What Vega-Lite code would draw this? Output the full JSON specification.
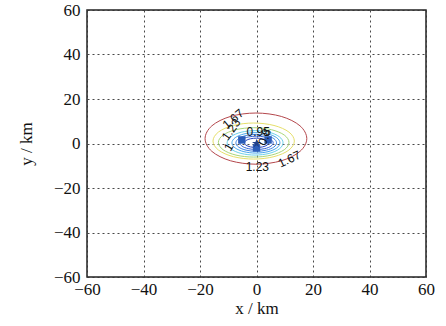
{
  "$schema": "https://vega.github.io/schema/vega-lite/v6.json",
  "width": 339,
  "height": 267,
  "autosize": {"type": "none"},
  "padding": {"left": 87, "top": 10, "right": 20, "bottom": 49},
  "background": "white",
  "config": {
    "view": {"stroke": "#222", "strokeWidth": 1.5},
    "axis": {
      "labelFont": "Liberation Serif", "labelFontSize": 17, "labelColor": "#111",
      "titleFont": "Liberation Serif", "titleFontSize": 17, "titleFontWeight": "normal", "titleColor": "#111",
      "grid": true, "gridColor": "#333", "gridDash": [2, 3], "gridWidth": 0.9, "gridOpacity": 1,
      "domain": false, "ticks": false, "labelOverlap": false, "labelFlush": false, "labelBound": false
    }
  },
  "data": {"values": [
    {"k":"c","c":"a","i":0,"x":17.8,"y":2.2},{"k":"c","c":"a","i":1,"x":15.39,"y":7.95},{"k":"c","c":"a","i":2,"x":8.8,"y":12.16},{"k":"c","c":"a","i":3,"x":-0.2,"y":13.7},{"k":"c","c":"a","i":4,"x":-9.2,"y":12.16},{"k":"c","c":"a","i":5,"x":-15.79,"y":7.95},{"k":"c","c":"a","i":6,"x":-18.2,"y":2.2},{"k":"c","c":"a","i":7,"x":-15.79,"y":-3.55},{"k":"c","c":"a","i":8,"x":-9.2,"y":-7.76},{"k":"c","c":"a","i":9,"x":-0.2,"y":-9.3},{"k":"c","c":"a","i":10,"x":8.8,"y":-7.76},{"k":"c","c":"a","i":11,"x":15.39,"y":-3.55},
    {"k":"c","c":"b","i":0,"x":13.4,"y":1.1},{"k":"c","c":"b","i":1,"x":11.47,"y":5.15},{"k":"c","c":"b","i":2,"x":6.2,"y":8.11},{"k":"c","c":"b","i":3,"x":-1,"y":9.2},{"k":"c","c":"b","i":4,"x":-8.2,"y":8.11},{"k":"c","c":"b","i":5,"x":-13.47,"y":5.15},{"k":"c","c":"b","i":6,"x":-15.4,"y":1.1},{"k":"c","c":"b","i":7,"x":-13.47,"y":-2.95},{"k":"c","c":"b","i":8,"x":-8.2,"y":-5.91},{"k":"c","c":"b","i":9,"x":-1,"y":-7},{"k":"c","c":"b","i":10,"x":6.2,"y":-5.91},{"k":"c","c":"b","i":11,"x":11.47,"y":-2.95},
    {"k":"c","c":"c","i":0,"x":11.5,"y":0.5},{"k":"c","c":"c","i":1,"x":9.83,"y":3.8},{"k":"c","c":"c","i":2,"x":5.25,"y":6.22},{"k":"c","c":"c","i":3,"x":-1,"y":7.1},{"k":"c","c":"c","i":4,"x":-7.25,"y":6.22},{"k":"c","c":"c","i":5,"x":-11.83,"y":3.8},{"k":"c","c":"c","i":6,"x":-13.5,"y":0.5},{"k":"c","c":"c","i":7,"x":-11.83,"y":-2.8},{"k":"c","c":"c","i":8,"x":-7.25,"y":-5.22},{"k":"c","c":"c","i":9,"x":-1,"y":-6.1},{"k":"c","c":"c","i":10,"x":5.25,"y":-5.22},{"k":"c","c":"c","i":11,"x":9.83,"y":-2.8},
    {"k":"c","c":"d","i":0,"x":9.4,"y":0.3},{"k":"c","c":"d","i":1,"x":8.07,"y":3.05},{"k":"c","c":"d","i":2,"x":4.45,"y":5.06},{"k":"c","c":"d","i":3,"x":-0.5,"y":5.8},{"k":"c","c":"d","i":4,"x":-5.45,"y":5.06},{"k":"c","c":"d","i":5,"x":-9.07,"y":3.05},{"k":"c","c":"d","i":6,"x":-10.4,"y":0.3},{"k":"c","c":"d","i":7,"x":-9.07,"y":-2.45},{"k":"c","c":"d","i":8,"x":-5.45,"y":-4.46},{"k":"c","c":"d","i":9,"x":-0.5,"y":-5.2},{"k":"c","c":"d","i":10,"x":4.45,"y":-4.46},{"k":"c","c":"d","i":11,"x":8.07,"y":-2.45},
    {"k":"c","c":"e","i":0,"x":8.3,"y":0.3},{"k":"c","c":"e","i":1,"x":7.16,"y":2.6},{"k":"c","c":"e","i":2,"x":4.05,"y":4.28},{"k":"c","c":"e","i":3,"x":-0.2,"y":4.9},{"k":"c","c":"e","i":4,"x":-4.45,"y":4.28},{"k":"c","c":"e","i":5,"x":-7.56,"y":2.6},{"k":"c","c":"e","i":6,"x":-8.7,"y":0.3},{"k":"c","c":"e","i":7,"x":-7.56,"y":-2.0},{"k":"c","c":"e","i":8,"x":-4.45,"y":-3.68},{"k":"c","c":"e","i":9,"x":-0.2,"y":-4.3},{"k":"c","c":"e","i":10,"x":4.05,"y":-3.68},{"k":"c","c":"e","i":11,"x":7.16,"y":-2.0},
    {"k":"c","c":"f","i":0,"x":7.1,"y":0.3},{"k":"c","c":"f","i":1,"x":6.14,"y":2.2},{"k":"c","c":"f","i":2,"x":3.5,"y":3.59},{"k":"c","c":"f","i":3,"x":-0.1,"y":4.1},{"k":"c","c":"f","i":4,"x":-3.7,"y":3.59},{"k":"c","c":"f","i":5,"x":-6.34,"y":2.2},{"k":"c","c":"f","i":6,"x":-7.3,"y":0.3},{"k":"c","c":"f","i":7,"x":-6.34,"y":-1.6},{"k":"c","c":"f","i":8,"x":-3.7,"y":-2.99},{"k":"c","c":"f","i":9,"x":-0.1,"y":-3.5},{"k":"c","c":"f","i":10,"x":3.5,"y":-2.99},{"k":"c","c":"f","i":11,"x":6.14,"y":-1.6},
    {"k":"c","c":"g","i":0,"x":5.9,"y":0.3},{"k":"c","c":"g","i":1,"x":5.11,"y":1.8},{"k":"c","c":"g","i":2,"x":2.95,"y":2.9},{"k":"c","c":"g","i":3,"x":0,"y":3.3},{"k":"c","c":"g","i":4,"x":-2.95,"y":2.9},{"k":"c","c":"g","i":5,"x":-5.11,"y":1.8},{"k":"c","c":"g","i":6,"x":-5.9,"y":0.3},{"k":"c","c":"g","i":7,"x":-5.11,"y":-1.2},{"k":"c","c":"g","i":8,"x":-2.95,"y":-2.3},{"k":"c","c":"g","i":9,"x":0,"y":-2.7},{"k":"c","c":"g","i":10,"x":2.95,"y":-2.3},{"k":"c","c":"g","i":11,"x":5.11,"y":-1.2},
    {"k":"c","c":"h","i":0,"x":4.3,"y":0.3},{"k":"c","c":"h","i":1,"x":3.72,"y":1.35},{"k":"c","c":"h","i":2,"x":2.15,"y":2.12},{"k":"c","c":"h","i":3,"x":0,"y":2.4},{"k":"c","c":"h","i":4,"x":-2.15,"y":2.12},{"k":"c","c":"h","i":5,"x":-3.72,"y":1.35},{"k":"c","c":"h","i":6,"x":-4.3,"y":0.3},{"k":"c","c":"h","i":7,"x":-3.72,"y":-0.75},{"k":"c","c":"h","i":8,"x":-2.15,"y":-1.52},{"k":"c","c":"h","i":9,"x":0,"y":-1.8},{"k":"c","c":"h","i":10,"x":2.15,"y":-1.52},{"k":"c","c":"h","i":11,"x":3.72,"y":-0.75},
    {"k":"s","x":-5.2,"y":1.6},{"k":"s","x":4.1,"y":1.6},{"k":"s","x":0,"y":-2},
    {"k":"star","x":0,"y":0},
    {"k":"t","label":"1.67","x":-8.3,"y":11,"ang":320},
    {"k":"t","label":"1.23","x":-9,"y":6.3,"ang":305},
    {"k":"t","label":"1","x":-9.8,"y":-1.6,"ang":300},
    {"k":"t","label":"0.95","x":0.6,"y":5.2,"ang":0},
    {"k":"t","label":"0.8","x":2.9,"y":2.9,"ang":290},
    {"k":"t","label":"1.23","x":0.3,"y":-10.6,"ang":0},
    {"k":"t","label":"1.67","x":11.6,"y":-7,"ang":335}
  ]},
  "encoding": {
    "x": {"field": "x", "type": "quantitative", "scale": {"domain": [-60, 60], "nice": false, "zero": false},
          "axis": {"values": [-60, -40, -20, 0, 20, 40, 60], "title": "x / km", "labelPadding": 4, "titlePadding": 3}},
    "y": {"field": "y", "type": "quantitative", "scale": {"domain": [-60, 60], "nice": false, "zero": false},
          "axis": {"values": [-60, -40, -20, 0, 20, 40, 60], "title": "y / km", "labelPadding": 7, "titlePadding": 18}}
  },
  "layer": [
    {
      "transform": [{"filter": "datum.k === 'c'"}],
      "mark": {"type": "line", "interpolate": "cardinal-closed", "strokeWidth": 1},
      "encoding": {
        "detail": {"field": "c"},
        "order": {"field": "i", "type": "quantitative"},
        "color": {"field": "c", "type": "nominal", "legend": null,
                  "scale": {"domain": ["a","b","c","d","e","f","g","h"],
                            "range": ["#b4474c", "#e6df6a", "#a9d67a", "#6cd0ea", "#4aa8ec", "#3f86e2", "#3464d6", "#2a46bc"]}}
      }
    },
    {
      "transform": [{"filter": "datum.k === 's'"}],
      "mark": {"type": "point", "shape": "square", "filled": true, "size": 55, "color": "#2b5cb8", "opacity": 1}
    },
    {
      "transform": [{"filter": "datum.k === 'star'"}],
      "mark": {"type": "point", "shape": "M0,-1L0.22,-0.31L0.95,-0.31L0.36,0.12L0.59,0.81L0,0.38L-0.59,0.81L-0.36,0.12L-0.95,-0.31L-0.22,-0.31Z", "filled": true, "size": 90, "color": "#1f3f8a", "opacity": 1}
    },
    {
      "transform": [{"filter": "datum.k === 't'"}],
      "mark": {"type": "text", "font": "Liberation Sans", "fontSize": 12, "color": "#111"},
      "encoding": {
        "text": {"field": "label"},
        "angle": {"field": "ang", "type": "quantitative", "scale": null}
      }
    }
  ]
}
